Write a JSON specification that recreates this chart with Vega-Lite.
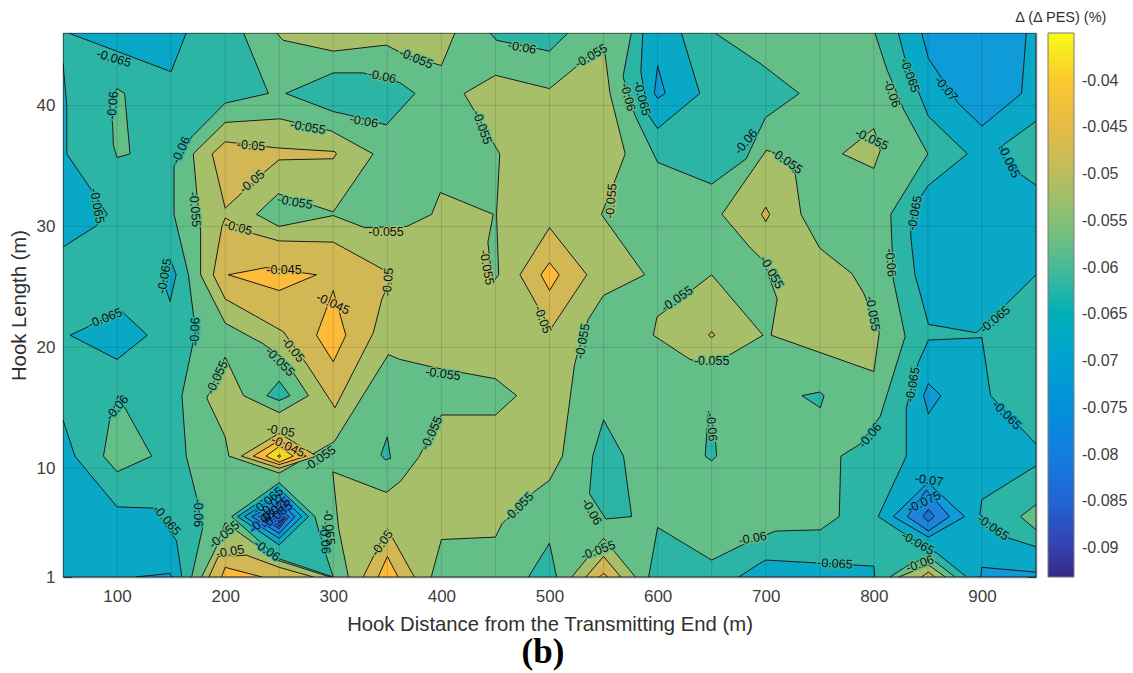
{"$schema":"https://vega.github.io/schema/vega-lite/v6.json","width":973,"height":544,"autosize":"none","padding":{"left":63,"top":33,"right":97,"bottom":96},"background":"white",
"config":{"view":{"stroke":null},"axis":{"labelFont":"Liberation Sans","titleFont":"Liberation Sans","labelFontSize":17,"titleFontSize":20.3,"labelColor":"#404040","titleColor":"#303030","titleFontWeight":"normal","domainColor":"#7a7a7a","domainWidth":1.5,"tickColor":"#333333","tickSize":-9,"ticks":true,"grid":false,"zindex":1}},
"datasets":{"gridx":[{"X":100},{"X":150},{"X":200},{"X":250},{"X":300},{"X":350},{"X":400},{"X":450},{"X":500},{"X":550},{"X":600},{"X":650},{"X":700},{"X":750},{"X":800},{"X":850},{"X":900}],"gridy":[{"Y":10},{"Y":20},{"Y":30},{"Y":40}],
"polys":[
{"id":1,"band":-0.0575,"X":50,"Y":1},{"id":1,"band":-0.0575,"X":50,"Y":46},{"id":1,"band":-0.0575,"X":950,"Y":46},{"id":1,"band":-0.0575,"X":950,"Y":1},{"id":1,"band":-0.0575,"X":50,"Y":1},
{"id":2,"band":-0.0625,"X":50,"Y":46},{"id":2,"band":-0.0625,"X":217,"Y":46},{"id":2,"band":-0.0625,"X":240,"Y":41},{"id":2,"band":-0.0625,"X":200,"Y":40.2},{"id":2,"band":-0.0625,"X":169,"Y":37.4},{"id":2,"band":-0.0625,"X":152.7,"Y":35},{"id":2,"band":-0.0625,"X":152.7,"Y":31},{"id":2,"band":-0.0625,"X":166,"Y":26},{"id":2,"band":-0.0625,"X":170.5,"Y":22.8},{"id":2,"band":-0.0625,"X":172.7,"Y":21.4},{"id":2,"band":-0.0625,"X":160,"Y":16},{"id":2,"band":-0.0625,"X":164,"Y":11},{"id":2,"band":-0.0625,"X":173.6,"Y":7.6},{"id":2,"band":-0.0625,"X":179,"Y":5},{"id":2,"band":-0.0625,"X":169,"Y":1},{"id":2,"band":-0.0625,"X":50,"Y":1},{"id":2,"band":-0.0625,"X":50,"Y":46},
{"id":3,"band":-0.0675,"X":55,"Y":46},{"id":3,"band":-0.0675,"X":150,"Y":42.8},{"id":3,"band":-0.0675,"X":164,"Y":46},{"id":3,"band":-0.0675,"X":55,"Y":46},
{"id":4,"band":-0.0675,"X":50,"Y":43.5},{"id":4,"band":-0.0675,"X":53.5,"Y":40},{"id":4,"band":-0.0675,"X":53.5,"Y":36},{"id":4,"band":-0.0675,"X":76.5,"Y":33},{"id":4,"band":-0.0675,"X":91,"Y":31},{"id":4,"band":-0.0675,"X":80,"Y":30},{"id":4,"band":-0.0675,"X":50,"Y":28.3},{"id":4,"band":-0.0675,"X":50,"Y":43.5},
{"id":5,"band":-0.0575,"X":100,"Y":41.4},{"id":5,"band":-0.0575,"X":107,"Y":41},{"id":5,"band":-0.0575,"X":112,"Y":36},{"id":5,"band":-0.0575,"X":100,"Y":35.7},{"id":5,"band":-0.0575,"X":96.6,"Y":36.7},{"id":5,"band":-0.0575,"X":96,"Y":38.4},{"id":5,"band":-0.0575,"X":93,"Y":40.3},{"id":5,"band":-0.0575,"X":100,"Y":41.4},
{"id":6,"band":-0.0675,"X":50,"Y":14},{"id":6,"band":-0.0675,"X":61,"Y":11},{"id":6,"band":-0.0675,"X":100,"Y":6.8},{"id":6,"band":-0.0675,"X":133.6,"Y":6.7},{"id":6,"band":-0.0675,"X":155,"Y":4},{"id":6,"band":-0.0675,"X":160,"Y":1},{"id":6,"band":-0.0675,"X":50,"Y":1},{"id":6,"band":-0.0675,"X":50,"Y":14},
{"id":7,"band":-0.0725,"X":117.5,"Y":1},{"id":7,"band":-0.0725,"X":149,"Y":1.3},{"id":7,"band":-0.0725,"X":150.5,"Y":1},{"id":7,"band":-0.0725,"X":117.5,"Y":1},
{"id":8,"band":-0.0675,"X":56.6,"Y":21},{"id":8,"band":-0.0675,"X":104,"Y":23},{"id":8,"band":-0.0675,"X":128,"Y":21},{"id":8,"band":-0.0675,"X":100,"Y":19},{"id":8,"band":-0.0675,"X":56.6,"Y":21},
{"id":9,"band":-0.0675,"X":149,"Y":27.4},{"id":9,"band":-0.0675,"X":154.6,"Y":26},{"id":9,"band":-0.0675,"X":149,"Y":23.8},{"id":9,"band":-0.0675,"X":141,"Y":26},{"id":9,"band":-0.0675,"X":149,"Y":27.4},
{"id":10,"band":-0.0575,"X":101,"Y":16},{"id":10,"band":-0.0575,"X":132,"Y":11},{"id":10,"band":-0.0575,"X":100,"Y":9.7},{"id":10,"band":-0.0575,"X":87.4,"Y":11},{"id":10,"band":-0.0575,"X":93,"Y":13.9},{"id":10,"band":-0.0575,"X":101,"Y":16},
{"id":11,"band":-0.0625,"X":256,"Y":41},{"id":11,"band":-0.0625,"X":300,"Y":42.7},{"id":11,"band":-0.0625,"X":327.6,"Y":42.7},{"id":11,"band":-0.0625,"X":361.5,"Y":41.9},{"id":11,"band":-0.0625,"X":375.6,"Y":41},{"id":11,"band":-0.0625,"X":349,"Y":38.4},{"id":11,"band":-0.0625,"X":315,"Y":39.2},{"id":11,"band":-0.0625,"X":300,"Y":39.5},{"id":11,"band":-0.0625,"X":256,"Y":41},
{"id":12,"band":-0.0525,"X":247.5,"Y":46},{"id":12,"band":-0.0525,"X":253.6,"Y":45.4},{"id":12,"band":-0.0525,"X":300,"Y":44.5},{"id":12,"band":-0.0525,"X":349,"Y":45},{"id":12,"band":-0.0525,"X":364,"Y":44.3},{"id":12,"band":-0.0525,"X":400,"Y":43.3},{"id":12,"band":-0.0525,"X":412.5,"Y":46},{"id":12,"band":-0.0525,"X":247.5,"Y":46},
{"id":13,"band":-0.0525,"X":200,"Y":38.6},{"id":13,"band":-0.0525,"X":250.6,"Y":38.9},{"id":13,"band":-0.0525,"X":298,"Y":37.9},{"id":13,"band":-0.0525,"X":336.8,"Y":36},{"id":13,"band":-0.0525,"X":300,"Y":31.2},{"id":13,"band":-0.0525,"X":249,"Y":32.7},{"id":13,"band":-0.0525,"X":229,"Y":31},{"id":13,"band":-0.0525,"X":249.7,"Y":30},{"id":13,"band":-0.0525,"X":300,"Y":30.9},{"id":13,"band":-0.0525,"X":329,"Y":29.9},{"id":13,"band":-0.0525,"X":368,"Y":30},{"id":13,"band":-0.0525,"X":391,"Y":31},{"id":13,"band":-0.0525,"X":399,"Y":32.8},{"id":13,"band":-0.0525,"X":448,"Y":31},{"id":13,"band":-0.0525,"X":443,"Y":28.7},{"id":13,"band":-0.0525,"X":447,"Y":25.3},{"id":13,"band":-0.0525,"X":453,"Y":26},{"id":13,"band":-0.0525,"X":451,"Y":31},{"id":13,"band":-0.0525,"X":454,"Y":36},{"id":13,"band":-0.0525,"X":421,"Y":41},{"id":13,"band":-0.0525,"X":450,"Y":42.5},{"id":13,"band":-0.0525,"X":500,"Y":41.4},{"id":13,"band":-0.0525,"X":522,"Y":43},{"id":13,"band":-0.0525,"X":550,"Y":45.2},{"id":13,"band":-0.0525,"X":556,"Y":41},{"id":13,"band":-0.0525,"X":570,"Y":36},{"id":13,"band":-0.0525,"X":560.6,"Y":33.8},{"id":13,"band":-0.0525,"X":548,"Y":31},{"id":13,"band":-0.0525,"X":588,"Y":26},{"id":13,"band":-0.0525,"X":550,"Y":24.3},{"id":13,"band":-0.0525,"X":535.8,"Y":22.3},{"id":13,"band":-0.0525,"X":525,"Y":19.2},{"id":13,"band":-0.0525,"X":523,"Y":18.5},{"id":13,"band":-0.0525,"X":512,"Y":11},{"id":13,"band":-0.0525,"X":500,"Y":9},{"id":13,"band":-0.0525,"X":485,"Y":8},{"id":13,"band":-0.0525,"X":456,"Y":5.4},{"id":13,"band":-0.0525,"X":450,"Y":4.3},{"id":13,"band":-0.0525,"X":400,"Y":4.1},{"id":13,"band":-0.0525,"X":390.6,"Y":1},{"id":13,"band":-0.0525,"X":314,"Y":1},{"id":13,"band":-0.0525,"X":305,"Y":5},{"id":13,"band":-0.0525,"X":299.5,"Y":9.7},{"id":13,"band":-0.0525,"X":349,"Y":8},{"id":13,"band":-0.0525,"X":362,"Y":8.9},{"id":13,"band":-0.0525,"X":379,"Y":10.9},{"id":13,"band":-0.0525,"X":400,"Y":14.4},{"id":13,"band":-0.0525,"X":450,"Y":14.4},{"id":13,"band":-0.0525,"X":469.6,"Y":16},{"id":13,"band":-0.0525,"X":450,"Y":17.4},{"id":13,"band":-0.0525,"X":395,"Y":18.3},{"id":13,"band":-0.0525,"X":361.6,"Y":19},{"id":13,"band":-0.0525,"X":351,"Y":19.4},{"id":13,"band":-0.0525,"X":301,"Y":12.2},{"id":13,"band":-0.0525,"X":250,"Y":9.6},{"id":13,"band":-0.0525,"X":203.5,"Y":11},{"id":13,"band":-0.0525,"X":200,"Y":12.6},{"id":13,"band":-0.0525,"X":183,"Y":15.8},{"id":13,"band":-0.0525,"X":200,"Y":19.2},{"id":13,"band":-0.0525,"X":217,"Y":16},{"id":13,"band":-0.0525,"X":250,"Y":14.6},{"id":13,"band":-0.0525,"X":277,"Y":16},{"id":13,"band":-0.0525,"X":255,"Y":19},{"id":13,"band":-0.0525,"X":235,"Y":20.3},{"id":13,"band":-0.0525,"X":200,"Y":22},{"id":13,"band":-0.0525,"X":177.3,"Y":26},{"id":13,"band":-0.0525,"X":177.3,"Y":29.6},{"id":13,"band":-0.0525,"X":173.6,"Y":32.9},{"id":13,"band":-0.0525,"X":170.5,"Y":36},{"id":13,"band":-0.0525,"X":200,"Y":38.6},
{"id":14,"band":-0.0475,"X":188,"Y":36},{"id":14,"band":-0.0475,"X":200,"Y":37},{"id":14,"band":-0.0475,"X":247.5,"Y":36.5},{"id":14,"band":-0.0475,"X":301.4,"Y":36.2},{"id":14,"band":-0.0475,"X":303,"Y":36},{"id":14,"band":-0.0475,"X":300,"Y":35.6},{"id":14,"band":-0.0475,"X":249.7,"Y":35.5},{"id":14,"band":-0.0475,"X":235,"Y":34.4},{"id":14,"band":-0.0475,"X":200,"Y":31.5},{"id":14,"band":-0.0475,"X":188,"Y":36},
{"id":15,"band":-0.0475,"X":200,"Y":30.7},{"id":15,"band":-0.0475,"X":226,"Y":29.4},{"id":15,"band":-0.0475,"X":250,"Y":28.8},{"id":15,"band":-0.0475,"X":300,"Y":28.7},{"id":15,"band":-0.0475,"X":355,"Y":26},{"id":15,"band":-0.0475,"X":345,"Y":24},{"id":15,"band":-0.0475,"X":337,"Y":21.2},{"id":15,"band":-0.0475,"X":301.6,"Y":15},{"id":15,"band":-0.0475,"X":277,"Y":18.4},{"id":15,"band":-0.0475,"X":253.7,"Y":21.3},{"id":15,"band":-0.0475,"X":200,"Y":24},{"id":15,"band":-0.0475,"X":189,"Y":26},{"id":15,"band":-0.0475,"X":197,"Y":30},{"id":15,"band":-0.0475,"X":200,"Y":30.7},
{"id":16,"band":-0.0425,"X":202.9,"Y":26},{"id":16,"band":-0.0425,"X":238,"Y":26.6},{"id":16,"band":-0.0425,"X":284.5,"Y":26},{"id":16,"band":-0.0425,"X":250,"Y":24.7},{"id":16,"band":-0.0425,"X":202.9,"Y":26},
{"id":17,"band":-0.0425,"X":300,"Y":24.7},{"id":17,"band":-0.0425,"X":311.6,"Y":21},{"id":17,"band":-0.0425,"X":300,"Y":18.8},{"id":17,"band":-0.0425,"X":284.5,"Y":21},{"id":17,"band":-0.0425,"X":300,"Y":24.7},
{"id":18,"band":-0.0625,"X":250,"Y":17.2},{"id":18,"band":-0.0625,"X":260,"Y":16},{"id":18,"band":-0.0625,"X":250,"Y":15.6},{"id":18,"band":-0.0625,"X":238.5,"Y":16},{"id":18,"band":-0.0625,"X":250,"Y":17.2},
{"id":19,"band":-0.0475,"X":215,"Y":11},{"id":19,"band":-0.0475,"X":250,"Y":12.9},{"id":19,"band":-0.0475,"X":284.5,"Y":11},{"id":19,"band":-0.0475,"X":250,"Y":10},{"id":19,"band":-0.0475,"X":215,"Y":11},
{"id":20,"band":-0.0425,"X":226,"Y":11},{"id":20,"band":-0.0425,"X":250,"Y":12.3},{"id":20,"band":-0.0425,"X":275,"Y":11},{"id":20,"band":-0.0425,"X":250,"Y":10.3},{"id":20,"band":-0.0425,"X":226,"Y":11},
{"id":21,"band":-0.0375,"X":237.7,"Y":11},{"id":21,"band":-0.0375,"X":250,"Y":11.8},{"id":21,"band":-0.0375,"X":263,"Y":11},{"id":21,"band":-0.0375,"X":250,"Y":10.5},{"id":21,"band":-0.0375,"X":237.7,"Y":11},
{"id":22,"band":-0.0375,"X":248.5,"Y":11},{"id":22,"band":-0.0375,"X":250,"Y":11.1},{"id":22,"band":-0.0375,"X":251.5,"Y":11},{"id":22,"band":-0.0375,"X":250,"Y":10.9},{"id":22,"band":-0.0375,"X":248.5,"Y":11},
{"id":23,"band":-0.0525,"X":178.2,"Y":1},{"id":23,"band":-0.0525,"X":192,"Y":3.5},{"id":23,"band":-0.0525,"X":200,"Y":5.5},{"id":23,"band":-0.0525,"X":214,"Y":4.6},{"id":23,"band":-0.0525,"X":248,"Y":2.4},{"id":23,"band":-0.0525,"X":297,"Y":1},{"id":23,"band":-0.0525,"X":178.2,"Y":1},
{"id":24,"band":-0.0475,"X":185,"Y":1},{"id":24,"band":-0.0475,"X":193.6,"Y":2.7},{"id":24,"band":-0.0475,"X":219.8,"Y":2.8},{"id":24,"band":-0.0475,"X":250,"Y":1.8},{"id":24,"band":-0.0475,"X":281.6,"Y":1},{"id":24,"band":-0.0475,"X":185,"Y":1},
{"id":25,"band":-0.0425,"X":196.7,"Y":1},{"id":25,"band":-0.0425,"X":200,"Y":1.8},{"id":25,"band":-0.0425,"X":234,"Y":1},{"id":25,"band":-0.0425,"X":196.7,"Y":1},
{"id":26,"band":-0.0625,"X":206,"Y":6},{"id":26,"band":-0.0625,"X":250,"Y":8.8},{"id":26,"band":-0.0625,"X":283,"Y":6},{"id":26,"band":-0.0625,"X":290,"Y":3.7},{"id":26,"band":-0.0625,"X":300,"Y":1},{"id":26,"band":-0.0625,"X":250,"Y":2.5},{"id":26,"band":-0.0625,"X":206,"Y":6},
{"id":27,"band":-0.0675,"X":211.6,"Y":6},{"id":27,"band":-0.0675,"X":250,"Y":8.3},{"id":27,"band":-0.0675,"X":277,"Y":6},{"id":27,"band":-0.0675,"X":250,"Y":3.65},{"id":27,"band":-0.0675,"X":211.6,"Y":6},
{"id":28,"band":-0.0725,"X":217.8,"Y":6},{"id":28,"band":-0.0725,"X":250,"Y":7.8},{"id":28,"band":-0.0725,"X":270.8,"Y":6},{"id":28,"band":-0.0725,"X":250,"Y":4.2},{"id":28,"band":-0.0725,"X":217.8,"Y":6},
{"id":29,"band":-0.0775,"X":224.5,"Y":6},{"id":29,"band":-0.0775,"X":250,"Y":7.2},{"id":29,"band":-0.0775,"X":264.6,"Y":6},{"id":29,"band":-0.0775,"X":250,"Y":4.6},{"id":29,"band":-0.0775,"X":224.5,"Y":6},
{"id":30,"band":-0.0825,"X":230.7,"Y":6},{"id":30,"band":-0.0825,"X":250,"Y":6.8},{"id":30,"band":-0.0825,"X":259,"Y":6},{"id":30,"band":-0.0825,"X":250,"Y":5},{"id":30,"band":-0.0825,"X":230.7,"Y":6},
{"id":31,"band":-0.0875,"X":238,"Y":5.9},{"id":31,"band":-0.0875,"X":250,"Y":6.4},{"id":31,"band":-0.0875,"X":256,"Y":5.9},{"id":31,"band":-0.0875,"X":250,"Y":5.2},{"id":31,"band":-0.0875,"X":238,"Y":5.9},
{"id":32,"band":-0.0925,"X":244,"Y":5.8},{"id":32,"band":-0.0925,"X":250,"Y":6.1},{"id":32,"band":-0.0925,"X":254,"Y":5.8},{"id":32,"band":-0.0925,"X":250,"Y":5.5},{"id":32,"band":-0.0925,"X":244,"Y":5.8},
{"id":33,"band":-0.0475,"X":327.6,"Y":1},{"id":33,"band":-0.0475,"X":350,"Y":5},{"id":33,"band":-0.0475,"X":375,"Y":1},{"id":33,"band":-0.0475,"X":327.6,"Y":1},
{"id":34,"band":-0.0425,"X":341.5,"Y":1},{"id":34,"band":-0.0425,"X":350,"Y":2.7},{"id":34,"band":-0.0425,"X":360,"Y":1},{"id":34,"band":-0.0425,"X":341.5,"Y":1},
{"id":35,"band":-0.0625,"X":350,"Y":12.6},{"id":35,"band":-0.0625,"X":353,"Y":10.8},{"id":35,"band":-0.0625,"X":348,"Y":10.7},{"id":35,"band":-0.0625,"X":344,"Y":11.1},{"id":35,"band":-0.0625,"X":350,"Y":12.6},
{"id":36,"band":-0.0475,"X":500,"Y":29.9},{"id":36,"band":-0.0475,"X":534.5,"Y":26},{"id":36,"band":-0.0475,"X":501,"Y":21.5},{"id":36,"band":-0.0475,"X":472.7,"Y":26},{"id":36,"band":-0.0475,"X":500,"Y":29.9},
{"id":37,"band":-0.0425,"X":500,"Y":27},{"id":37,"band":-0.0425,"X":509,"Y":26},{"id":37,"band":-0.0425,"X":500,"Y":24.7},{"id":37,"band":-0.0425,"X":492,"Y":26},{"id":37,"band":-0.0425,"X":500,"Y":27},
{"id":38,"band":-0.0625,"X":445,"Y":46},{"id":38,"band":-0.0625,"X":451,"Y":45.4},{"id":38,"band":-0.0625,"X":500,"Y":44.5},{"id":38,"band":-0.0625,"X":517,"Y":46},{"id":38,"band":-0.0625,"X":445,"Y":46},
{"id":39,"band":-0.0625,"X":575.7,"Y":46},{"id":39,"band":-0.0625,"X":653,"Y":46},{"id":39,"band":-0.0625,"X":694.7,"Y":43.5},{"id":39,"band":-0.0625,"X":731,"Y":41},{"id":39,"band":-0.0625,"X":699.7,"Y":39},{"id":39,"band":-0.0625,"X":682,"Y":35.6},{"id":39,"band":-0.0625,"X":650,"Y":33.5},{"id":39,"band":-0.0625,"X":600,"Y":35.3},{"id":39,"band":-0.0625,"X":579,"Y":39.2},{"id":39,"band":-0.0625,"X":568,"Y":42.4},{"id":39,"band":-0.0625,"X":575.7,"Y":46},
{"id":40,"band":-0.0675,"X":586.3,"Y":46},{"id":40,"band":-0.0675,"X":584.5,"Y":42.8},{"id":40,"band":-0.0675,"X":591.5,"Y":39.2},{"id":40,"band":-0.0675,"X":600,"Y":38.1},{"id":40,"band":-0.0675,"X":639,"Y":41},{"id":40,"band":-0.0675,"X":622,"Y":46},{"id":40,"band":-0.0675,"X":586.3,"Y":46},
{"id":41,"band":-0.0725,"X":600,"Y":43.3},{"id":41,"band":-0.0725,"X":607,"Y":41},{"id":41,"band":-0.0725,"X":600,"Y":40.6},{"id":41,"band":-0.0725,"X":597,"Y":41},{"id":41,"band":-0.0725,"X":600,"Y":43.3},
{"id":42,"band":-0.0525,"X":659.5,"Y":31},{"id":42,"band":-0.0525,"X":700.6,"Y":36.3},{"id":42,"band":-0.0525,"X":712,"Y":36},{"id":42,"band":-0.0525,"X":727.4,"Y":34.3},{"id":42,"band":-0.0525,"X":732.6,"Y":31},{"id":42,"band":-0.0525,"X":750,"Y":28.2},{"id":42,"band":-0.0525,"X":779.7,"Y":26.1},{"id":42,"band":-0.0525,"X":790.5,"Y":24.5},{"id":42,"band":-0.0525,"X":805,"Y":21.2},{"id":42,"band":-0.0525,"X":800,"Y":18},{"id":42,"band":-0.0525,"X":705,"Y":21},{"id":42,"band":-0.0525,"X":710.6,"Y":24},{"id":42,"band":-0.0525,"X":697.5,"Y":27.2},{"id":42,"band":-0.0525,"X":686,"Y":28.2},{"id":42,"band":-0.0525,"X":659.5,"Y":31},
{"id":43,"band":-0.0475,"X":700,"Y":31.6},{"id":43,"band":-0.0475,"X":703.7,"Y":31},{"id":43,"band":-0.0475,"X":700,"Y":30.4},{"id":43,"band":-0.0475,"X":696,"Y":31},{"id":43,"band":-0.0475,"X":700,"Y":31.6},
{"id":44,"band":-0.0525,"X":771,"Y":36},{"id":44,"band":-0.0525,"X":800,"Y":38.1},{"id":44,"band":-0.0525,"X":806,"Y":36.3},{"id":44,"band":-0.0525,"X":800,"Y":34.8},{"id":44,"band":-0.0525,"X":771,"Y":36},
{"id":45,"band":-0.0525,"X":596,"Y":21},{"id":45,"band":-0.0525,"X":599.4,"Y":22.5},{"id":45,"band":-0.0525,"X":650,"Y":26},{"id":45,"band":-0.0525,"X":697.5,"Y":21},{"id":45,"band":-0.0525,"X":650,"Y":18.5},{"id":45,"band":-0.0525,"X":630,"Y":19},{"id":45,"band":-0.0525,"X":596,"Y":21},
{"id":46,"band":-0.0475,"X":650,"Y":21.3},{"id":46,"band":-0.0475,"X":653,"Y":21},{"id":46,"band":-0.0475,"X":650,"Y":20.8},{"id":46,"band":-0.0475,"X":647,"Y":21},{"id":46,"band":-0.0475,"X":650,"Y":21.3},
{"id":47,"band":-0.0625,"X":550,"Y":14},{"id":47,"band":-0.0625,"X":540,"Y":11},{"id":47,"band":-0.0625,"X":537,"Y":7.9},{"id":47,"band":-0.0625,"X":552,"Y":5.8},{"id":47,"band":-0.0625,"X":576,"Y":6},{"id":47,"band":-0.0625,"X":568.5,"Y":11},{"id":47,"band":-0.0625,"X":550,"Y":14},
{"id":48,"band":-0.0625,"X":647,"Y":14.7},{"id":48,"band":-0.0625,"X":644,"Y":11},{"id":48,"band":-0.0625,"X":650,"Y":10.6},{"id":48,"band":-0.0625,"X":654.6,"Y":11},{"id":48,"band":-0.0625,"X":653,"Y":13},{"id":48,"band":-0.0625,"X":647,"Y":14.7},
{"id":49,"band":-0.0625,"X":480.5,"Y":1},{"id":49,"band":-0.0625,"X":500,"Y":3.8},{"id":49,"band":-0.0625,"X":506.6,"Y":1},{"id":49,"band":-0.0625,"X":480.5,"Y":1},
{"id":50,"band":-0.0525,"X":520.6,"Y":1},{"id":50,"band":-0.0525,"X":550,"Y":4.2},{"id":50,"band":-0.0525,"X":579.4,"Y":1},{"id":50,"band":-0.0525,"X":520.6,"Y":1},
{"id":51,"band":-0.0475,"X":533.7,"Y":1},{"id":51,"band":-0.0475,"X":550,"Y":2.7},{"id":51,"band":-0.0475,"X":566,"Y":1},{"id":51,"band":-0.0475,"X":533.7,"Y":1},
{"id":52,"band":-0.0425,"X":546,"Y":1},{"id":52,"band":-0.0425,"X":550,"Y":1.3},{"id":52,"band":-0.0425,"X":554,"Y":1},{"id":52,"band":-0.0425,"X":546,"Y":1},
{"id":53,"band":-0.0625,"X":591.7,"Y":1},{"id":53,"band":-0.0625,"X":600,"Y":5.1},{"id":53,"band":-0.0625,"X":650,"Y":2.4},{"id":53,"band":-0.0625,"X":679.5,"Y":3.7},{"id":53,"band":-0.0625,"X":709,"Y":4.8},{"id":53,"band":-0.0625,"X":750.5,"Y":4.9},{"id":53,"band":-0.0625,"X":768,"Y":6},{"id":53,"band":-0.0625,"X":769.5,"Y":11},{"id":53,"band":-0.0625,"X":787.4,"Y":12},{"id":53,"band":-0.0625,"X":806,"Y":14.3},{"id":53,"band":-0.0625,"X":829,"Y":20.9},{"id":53,"band":-0.0625,"X":818,"Y":25.6},{"id":53,"band":-0.0625,"X":815.7,"Y":31},{"id":53,"band":-0.0625,"X":850,"Y":36},{"id":53,"band":-0.0625,"X":828,"Y":39.6},{"id":53,"band":-0.0625,"X":812,"Y":43},{"id":53,"band":-0.0625,"X":801,"Y":46},{"id":53,"band":-0.0625,"X":950,"Y":46},{"id":53,"band":-0.0625,"X":950,"Y":1},{"id":53,"band":-0.0625,"X":591.7,"Y":1},
{"id":54,"band":-0.0675,"X":822.7,"Y":46},{"id":54,"band":-0.0675,"X":829,"Y":43.8},{"id":54,"band":-0.0675,"X":850.5,"Y":39.1},{"id":54,"band":-0.0675,"X":886.5,"Y":36},{"id":54,"band":-0.0675,"X":850.5,"Y":33.4},{"id":54,"band":-0.0675,"X":836.6,"Y":31.6},{"id":54,"band":-0.0675,"X":834,"Y":29.3},{"id":54,"band":-0.0675,"X":838,"Y":26},{"id":54,"band":-0.0675,"X":844.3,"Y":24},{"id":54,"band":-0.0675,"X":850.5,"Y":21.9},{"id":54,"band":-0.0675,"X":895,"Y":21.2},{"id":54,"band":-0.0675,"X":921.8,"Y":23.5},{"id":54,"band":-0.0675,"X":950,"Y":26},{"id":54,"band":-0.0675,"X":950,"Y":33.4},{"id":54,"band":-0.0675,"X":925,"Y":35},{"id":54,"band":-0.0675,"X":916,"Y":36.5},{"id":54,"band":-0.0675,"X":950,"Y":38.7},{"id":54,"band":-0.0675,"X":950,"Y":46},{"id":54,"band":-0.0675,"X":822.7,"Y":46},
{"id":55,"band":-0.0725,"X":844.3,"Y":46},{"id":55,"band":-0.0725,"X":850.5,"Y":43.9},{"id":55,"band":-0.0725,"X":878,"Y":40.2},{"id":55,"band":-0.0725,"X":900,"Y":38.3},{"id":55,"band":-0.0725,"X":936.6,"Y":41},{"id":55,"band":-0.0725,"X":941,"Y":46},{"id":55,"band":-0.0725,"X":844.3,"Y":46},
{"id":56,"band":-0.0675,"X":850.5,"Y":20.6},{"id":56,"band":-0.0675,"X":900,"Y":20.8},{"id":56,"band":-0.0675,"X":908,"Y":16},{"id":56,"band":-0.0675,"X":950,"Y":12},{"id":56,"band":-0.0675,"X":950,"Y":10.2},{"id":56,"band":-0.0675,"X":900,"Y":7.4},{"id":56,"band":-0.0675,"X":898,"Y":6.2},{"id":56,"band":-0.0675,"X":922,"Y":4.3},{"id":56,"band":-0.0675,"X":950,"Y":3.5},{"id":56,"band":-0.0675,"X":950,"Y":1},{"id":56,"band":-0.0675,"X":885.8,"Y":1},{"id":56,"band":-0.0675,"X":858,"Y":3},{"id":56,"band":-0.0675,"X":850.5,"Y":3.3},{"id":56,"band":-0.0675,"X":826,"Y":4.7},{"id":56,"band":-0.0675,"X":804,"Y":6},{"id":56,"band":-0.0675,"X":830,"Y":11},{"id":56,"band":-0.0675,"X":830,"Y":15},{"id":56,"band":-0.0675,"X":841,"Y":18.7},{"id":56,"band":-0.0675,"X":850.5,"Y":20.6},
{"id":57,"band":-0.0725,"X":898.8,"Y":1},{"id":57,"band":-0.0725,"X":900,"Y":1.8},{"id":57,"band":-0.0725,"X":950,"Y":1.4},{"id":57,"band":-0.0725,"X":950,"Y":1},{"id":57,"band":-0.0725,"X":898.8,"Y":1},
{"id":58,"band":-0.0725,"X":850.5,"Y":17},{"id":58,"band":-0.0725,"X":862,"Y":16},{"id":58,"band":-0.0725,"X":850.5,"Y":14.5},{"id":58,"band":-0.0725,"X":846,"Y":16},{"id":58,"band":-0.0725,"X":850.5,"Y":17},
{"id":59,"band":-0.0725,"X":818,"Y":6},{"id":59,"band":-0.0725,"X":850,"Y":8.8},{"id":59,"band":-0.0725,"X":884,"Y":6},{"id":59,"band":-0.0725,"X":850.5,"Y":4.3},{"id":59,"band":-0.0725,"X":818,"Y":6},
{"id":60,"band":-0.0775,"X":831,"Y":6},{"id":60,"band":-0.0775,"X":848.5,"Y":8.2},{"id":60,"band":-0.0775,"X":870,"Y":6},{"id":60,"band":-0.0775,"X":850.5,"Y":4.8},{"id":60,"band":-0.0775,"X":831,"Y":6},
{"id":61,"band":-0.0825,"X":845.4,"Y":6},{"id":61,"band":-0.0825,"X":850.5,"Y":6.6},{"id":61,"band":-0.0825,"X":856,"Y":6},{"id":61,"band":-0.0825,"X":850.5,"Y":5.6},{"id":61,"band":-0.0825,"X":845.4,"Y":6},
{"id":62,"band":-0.0575,"X":950,"Y":7},{"id":62,"band":-0.0575,"X":935.7,"Y":6},{"id":62,"band":-0.0575,"X":950,"Y":4.9},{"id":62,"band":-0.0575,"X":950,"Y":7},
{"id":63,"band":-0.0575,"X":815,"Y":1},{"id":63,"band":-0.0575,"X":830.5,"Y":1.9},{"id":63,"band":-0.0575,"X":850.5,"Y":2.7},{"id":63,"band":-0.0575,"X":875,"Y":1},{"id":63,"band":-0.0575,"X":815,"Y":1},
{"id":64,"band":-0.0525,"X":823,"Y":1},{"id":64,"band":-0.0525,"X":850.5,"Y":2},{"id":64,"band":-0.0525,"X":866,"Y":1},{"id":64,"band":-0.0525,"X":823,"Y":1},
{"id":65,"band":-0.0475,"X":844,"Y":1},{"id":65,"band":-0.0475,"X":850.5,"Y":1.4},{"id":65,"band":-0.0475,"X":856.6,"Y":1},{"id":65,"band":-0.0475,"X":844,"Y":1},
{"id":66,"band":-0.0675,"X":675,"Y":1},{"id":66,"band":-0.0675,"X":694,"Y":2.1},{"id":66,"band":-0.0675,"X":700,"Y":2.4},{"id":66,"band":-0.0675,"X":800,"Y":1.9},{"id":66,"band":-0.0675,"X":801,"Y":1},{"id":66,"band":-0.0675,"X":675,"Y":1},
{"id":67,"band":-0.0625,"X":733.5,"Y":16},{"id":67,"band":-0.0625,"X":750,"Y":16.3},{"id":67,"band":-0.0625,"X":754,"Y":16},{"id":67,"band":-0.0625,"X":750.5,"Y":15},{"id":67,"band":-0.0625,"X":733.5,"Y":16}
],
"labels":[
{"t":"-0.065","X":97,"Y":43.9,"rot":17,"band":-0.0625},{"t":"-0.06","X":96,"Y":40,"rot":-85,"band":-0.0625},{"t":"-0.06","X":159,"Y":36.3,"rot":-65,"band":-0.0625},{"t":"-0.065","X":81.5,"Y":31.7,"rot":80,"band":-0.0625},{"t":"-0.055","X":172,"Y":31.4,"rot":85,"band":-0.0575},{"t":"-0.065","X":144,"Y":25.9,"rot":-80,"band":-0.0625},{"t":"-0.05","X":224,"Y":36.7,"rot":5,"band":-0.0525},{"t":"-0.05","X":225,"Y":33.7,"rot":-40,"band":-0.0525},{"t":"-0.055","X":276.6,"Y":38.2,"rot":10,"band":-0.0575},{"t":"-0.06","X":345,"Y":42.4,"rot":12,"band":-0.0575},{"t":"-0.06","X":328.4,"Y":38.7,"rot":10,"band":-0.0575},{"t":"-0.055","X":376.5,"Y":43.9,"rot":22,"band":-0.0575},{"t":"-0.06","X":474.6,"Y":44.8,"rot":10,"band":-0.0575},{"t":"-0.055","X":538.4,"Y":44.1,"rot":-30,"band":-0.0575},{"t":"-0.06","X":572.6,"Y":40.7,"rot":75,"band":-0.0575},{"t":"-0.065","X":585.6,"Y":40.6,"rot":75,"band":-0.0625},{"t":"-0.055","X":437.6,"Y":38.2,"rot":70,"band":-0.0575},{"t":"-0.055","X":264.6,"Y":32,"rot":10,"band":-0.0575},{"t":"-0.055","X":348.8,"Y":29.5,"rot":0,"band":-0.0525},{"t":"-0.05","X":212,"Y":29.9,"rot":15,"band":-0.0525},{"t":"-0.045","X":254.4,"Y":26.4,"rot":0,"band":-0.0475},{"t":"-0.045","X":299.7,"Y":23.6,"rot":25,"band":-0.0475},{"t":"-0.05","X":350.6,"Y":25.4,"rot":-85,"band":-0.0525},{"t":"-0.055","X":442,"Y":26.6,"rot":80,"band":-0.0525},{"t":"-0.05","X":493.7,"Y":22.3,"rot":70,"band":-0.0525},{"t":"-0.055","X":557,"Y":32.1,"rot":-85,"band":-0.0525},{"t":"-0.055","X":530.7,"Y":20.5,"rot":-80,"band":-0.0575},{"t":"-0.055","X":618,"Y":24,"rot":-35,"band":-0.0575},{"t":"-0.055","X":650,"Y":18.9,"rot":0,"band":-0.0575},{"t":"-0.055","X":705.5,"Y":26.2,"rot":60,"band":-0.0575},{"t":"-0.055","X":719.5,"Y":35.4,"rot":35,"band":-0.0575},{"t":"-0.06","X":681.7,"Y":37,"rot":-50,"band":-0.0625},{"t":"-0.055","X":798,"Y":37.2,"rot":25,"band":-0.0575},{"t":"-0.065","X":833.4,"Y":42.5,"rot":70,"band":-0.0625},{"t":"-0.06","X":816.8,"Y":41,"rot":70,"band":-0.0575},{"t":"-0.07","X":866.8,"Y":41.4,"rot":50,"band":-0.0675},{"t":"-0.065","X":925,"Y":35.4,"rot":65,"band":-0.0675},{"t":"-0.065","X":838,"Y":31.1,"rot":-80,"band":-0.0625},{"t":"-0.06","X":815.6,"Y":27,"rot":85,"band":-0.0575},{"t":"-0.055","X":799,"Y":22.8,"rot":80,"band":-0.0575},{"t":"-0.065","X":912,"Y":22.3,"rot":-40,"band":-0.0625},{"t":"-0.065","X":836,"Y":16.9,"rot":-80,"band":-0.0625},{"t":"-0.065","X":923,"Y":14.4,"rot":45,"band":-0.0675},{"t":"-0.06","X":796.4,"Y":12.7,"rot":-50,"band":-0.0625},{"t":"-0.07","X":851,"Y":9,"rot":8,"band":-0.0675},{"t":"-0.075","X":846.4,"Y":7.2,"rot":-25,"band":-0.0725},{"t":"-0.065","X":910.2,"Y":5.1,"rot":35,"band":-0.0625},{"t":"-0.065","X":840.7,"Y":3.8,"rot":30,"band":-0.0625},{"t":"-0.06","X":842.7,"Y":2.1,"rot":-20,"band":-0.0575},{"t":"-0.065","X":764,"Y":2.1,"rot":3,"band":-0.0625},{"t":"-0.06","X":688,"Y":4.2,"rot":-10,"band":-0.0575},{"t":"-0.055","X":471.8,"Y":6.8,"rot":-45,"band":-0.0575},{"t":"-0.055","X":545,"Y":3.2,"rot":-20,"band":-0.0575},{"t":"-0.06","X":539,"Y":6.4,"rot":60,"band":-0.0575},{"t":"-0.06","X":650,"Y":13.4,"rot":85,"band":-0.0575},{"t":"-0.055","X":391,"Y":12.9,"rot":-65,"band":-0.0575},{"t":"-0.055","X":401.5,"Y":17.8,"rot":8,"band":-0.0575},{"t":"-0.065","X":89,"Y":22.4,"rot":-22,"band":-0.0625},{"t":"-0.06","X":172,"Y":21.3,"rot":-88,"band":-0.0625},{"t":"-0.06","X":100,"Y":15,"rot":-50,"band":-0.0625},{"t":"-0.055","X":192.4,"Y":17.5,"rot":-65,"band":-0.0575},{"t":"-0.055","X":250.7,"Y":18.8,"rot":45,"band":-0.0575},{"t":"-0.05","X":262.7,"Y":19.8,"rot":50,"band":-0.0525},{"t":"-0.05","X":251.4,"Y":13.1,"rot":10,"band":-0.0525},{"t":"-0.045","X":258,"Y":11.8,"rot":25,"band":-0.0475},{"t":"-0.055","X":287.7,"Y":10.8,"rot":-35,"band":-0.0575},{"t":"-0.065","X":146,"Y":5.7,"rot":50,"band":-0.0625},{"t":"-0.06","X":175,"Y":6.3,"rot":90,"band":-0.0625},{"t":"-0.055","X":199,"Y":4.5,"rot":-40,"band":-0.0575},{"t":"-0.05","X":204.5,"Y":3.1,"rot":-10,"band":-0.0525},{"t":"-0.06","X":238.7,"Y":3.2,"rot":35,"band":-0.0625},{"t":"-0.055","X":296,"Y":5.1,"rot":85,"band":-0.0575},{"t":"-0.06","X":292.3,"Y":4.1,"rot":85,"band":-0.0625},{"t":"-0.05","X":345,"Y":3.8,"rot":-55,"band":-0.0525},{"t":"-0.065","X":239.6,"Y":7.3,"rot":-40,"band":-0.0675},{"t":"-0.07","X":243.3,"Y":6.9,"rot":-40,"band":-0.0725},{"t":"-0.075","X":246,"Y":6.5,"rot":-40,"band":-0.0775},{"t":"-0.08","X":234,"Y":5.6,"rot":-40,"band":-0.0775},{"t":"-0.085","X":248,"Y":6.1,"rot":-40,"band":-0.0825}
],
"caption":[{"t":"Δ (Δ PES) (%)","X":973,"Y":47.2}],"panel":[{"t":"(b)","X":494,"Y":-5.2}]},
"layer":[
{"data":{"name":"polys"},"transform":[{"window":[{"op":"row_number","as":"o"}]}],"mark":{"type":"line","stroke":"#1c1c1c","strokeWidth":1,"clip":true,"strokeJoin":"miter"},
"encoding":{"x":{"field":"X","type":"quantitative","scale":{"domain":[50,950],"nice":false,"zero":false},"axis":{"values":[100,200,300,400,500,600,700,800,900],"title":"Hook Distance from the Transmitting End (m)","titlePadding":10,"labelPadding":20,"labelFlush":false}},
"y":{"field":"Y","type":"quantitative","scale":{"domain":[1,46],"nice":false,"zero":false},"axis":{"values":[1,10,20,30,40],"title":"Hook Length (m)","titlePadding":7,"labelPadding":17,"labelFlush":false}},
"detail":{"field":"id","type":"nominal"},"order":{"field":"o","type":"quantitative"},
"fill":{"field":"band","type":"quantitative","scale":{"type":"linear","domain":[-0.0931,-0.0925,-0.0875,-0.0825,-0.0775,-0.0725,-0.0675,-0.0625,-0.0575,-0.0525,-0.0475,-0.0425,-0.0375,-0.0349],"range":["#352A87","#382F93","#2C52C8","#1476E0","#1C84DC","#0E9BD7","#08A8C6","#2CB5A5","#63BE88","#A8BF6A","#D2B855","#FDBB38","#F5D824","#F9FB15"]},
"legend":{"type":"gradient","title":null,"orient":"none","legendX":985,"legendY":0,"padding":0,"direction":"vertical","gradientLength":544,"gradientThickness":26,"values":[-0.09,-0.085,-0.08,-0.075,-0.07,-0.065,-0.06,-0.055,-0.05,-0.045,-0.04],"labelExpr":"''+datum.value","labelFont":"Liberation Sans","labelFontSize":16,"labelColor":"#404040","labelOffset":8,"gradientStrokeColor":"#7a7a7a","gradientStrokeWidth":1}}}},
{"data":{"name":"gridx"},"mark":{"type":"rule","stroke":"#000000","strokeOpacity":0.13,"strokeWidth":1},"encoding":{"x":{"field":"X","type":"quantitative","axis":null}}},
{"data":{"name":"gridy"},"mark":{"type":"rule","stroke":"#000000","strokeOpacity":0.13,"strokeWidth":1},"encoding":{"y":{"field":"Y","type":"quantitative","axis":null}}},
{"data":{"name":"labels"},"mark":{"type":"text","font":"Liberation Sans","fontSize":12.5,"strokeWidth":2.5,"fill":"transparent","align":"center","baseline":"middle"},
"encoding":{"x":{"field":"X","type":"quantitative","axis":null},"y":{"field":"Y","type":"quantitative","axis":null},"text":{"field":"t","type":"nominal"},"angle":{"field":"rot","type":"quantitative","scale":null},
"stroke":{"field":"band","type":"quantitative","legend":null,"scale":{"type":"linear","domain":[-0.0931,-0.0925,-0.0875,-0.0825,-0.0775,-0.0725,-0.0675,-0.0625,-0.0575,-0.0525,-0.0475,-0.0425,-0.0375,-0.0349],"range":["#352A87","#382F93","#2C52C8","#1476E0","#1C84DC","#0E9BD7","#08A8C6","#2CB5A5","#63BE88","#A8BF6A","#D2B855","#FDBB38","#F5D824","#F9FB15"]}}}},
{"data":{"name":"labels"},"mark":{"type":"text","font":"Liberation Sans","fontSize":12.5,"fill":"#101010","align":"center","baseline":"middle"},
"encoding":{"x":{"field":"X","type":"quantitative","axis":{"orient":"top","labels":false,"title":null,"grid":false,"domain":true,"values":[100,200,300,400,500,600,700,800,900]}},"y":{"field":"Y","type":"quantitative","axis":{"orient":"right","labels":false,"title":null,"grid":false,"domain":true,"values":[1,10,20,30,40]}},"text":{"field":"t","type":"nominal"},"angle":{"field":"rot","type":"quantitative","scale":null}}},
{"data":{"name":"caption"},"mark":{"type":"text","font":"Liberation Sans","fontSize":14.5,"fill":"#303030","align":"center","baseline":"middle","clip":false},
"encoding":{"x":{"field":"X","type":"quantitative","axis":null},"y":{"field":"Y","type":"quantitative","axis":null},"text":{"field":"t","type":"nominal"}}},
{"data":{"name":"panel"},"mark":{"type":"text","font":"Liberation Serif","fontSize":35,"fontWeight":"bold","fill":"#000000","align":"center","baseline":"middle","clip":false},
"encoding":{"x":{"field":"X","type":"quantitative","axis":null},"y":{"field":"Y","type":"quantitative","axis":null},"text":{"field":"t","type":"nominal"}}}
],
"resolve":{"axis":{"x":"independent","y":"independent"},"scale":{"fill":"independent"}}}
